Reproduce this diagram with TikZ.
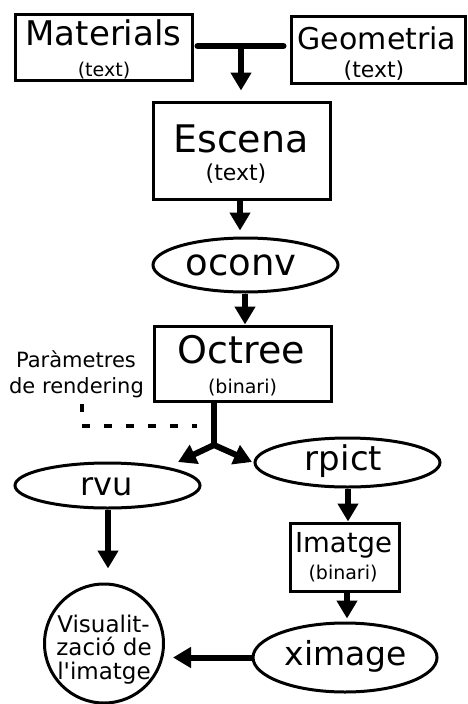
\documentclass[tikz,border=0pt]{standalone}
\usepackage{fontspec}
\setmainfont{DejaVu Sans}
\usetikzlibrary{shapes.geometric,arrows.meta,calc}
\newcommand{\fs}[1]{\fontsize{#1}{#1}\selectfont}
\begin{document}
\begin{tikzpicture}[x=1pt,y=-1pt,
  box/.style={draw,line width=3pt,rectangle,inner sep=0pt},
  oval/.style={draw,line width=3pt,ellipse,inner sep=0pt},
  txt/.style={anchor=base,inner sep=0pt},
  arr/.style={line width=6pt,-{Triangle[width=20pt,length=18pt]}},
  thickline/.style={line width=6pt},
  dashline/.style={line width=3.5pt,dash pattern=on 8pt off 14pt}]
\useasboundingbox (0,0) rectangle (467,704);
% boxes
\node[box,minimum width=177pt,minimum height=66pt] (Mat) at (103.5,47) {};
\node[box,minimum width=174pt,minimum height=67pt] (Geo) at (378,49.5) {};
\node[box,minimum width=177pt,minimum height=97pt] (Esc) at (241.5,150.5) {};
\node[oval,minimum width=185pt,minimum height=54pt] (oconv) at (245.5,265) {};
\node[box,minimum width=177pt,minimum height=75pt] (Oct) at (242.5,363.5) {};
\node[oval,minimum width=185pt,minimum height=45pt] (rvu) at (107.5,485.5) {};
\node[oval,minimum width=185pt,minimum height=49pt] (rpict) at (347.5,462.5) {};
\node[box,minimum width=109pt,minimum height=68pt] (Ima) at (344.5,557) {};
\node[oval,minimum width=184pt,minimum height=69pt] (xim) at (345,657.5) {};
\node[draw,line width=3pt,circle,minimum size=119pt,inner sep=0pt] (Vis) at (104,643.5) {};
% texts
\node[txt] (MatT) at (103.5,45) {\fs{34}Materials};
\node[txt] (MatS) at (104,76) {\fs{19}(text)};
\node[txt] (GeoT) at (377,49) {\fs{30}Geometria};
\node[txt] (GeoS) at (374,77) {\fs{22}(text)};
\node[txt] (EscT) at (241,152) {\fs{38}Escena};
\node[txt] (EscS) at (236,180) {\fs{22}(text)};
\node[txt] (oconvT) at (241,275) {\fs{37}oconv};
\node[txt] (OctT) at (241.5,363) {\fs{38}Octree};
\node[txt] (OctS) at (242.5,393) {\fs{19}(binari)};
\node[txt] (ParA) at (76,367) {\fs{21}Paràmetres};
\node[txt] (ParB) at (76.5,393) {\fs{21}de rendering};
\node[txt] (rvuT) at (106.5,495) {\fs{32}rvu};
\node[txt] (rpictT) at (343.5,470) {\fs{34}rpict};
\node[txt] (ImaT) at (343.5,552) {\fs{27.5}Imatge};
\node[txt] (ImaS) at (343,579) {\fs{19}(binari)};
\node[txt] (ximT) at (346,665) {\fs{33}ximage};
\node[txt] (VisA) at (103.5,632) {\fs{23}Visualit-};
\node[txt] (VisB) at (104,655) {\fs{23}zació de};
\node[txt] (VisC) at (104,679) {\fs{23}l\textquotesingle imatge};
% connectors
\coordinate (J) at (241,46);
\draw[thickline,line cap=round,shorten <=4pt,shorten >=6pt] (Mat.east |- J) -- (Geo.west |- J);
\draw[arr,shorten >=10pt] (J) -- (J |- Esc.north);
\draw[arr,shorten >=6pt] (Esc.south -| 240,0) -- (240,0 |- oconv.north);
\draw[arr] (245,0 |- oconv.south) -- (245,0 |- Oct.north);
\coordinate (F) at (214,445);
\coordinate (tipL) at (178,462);
\coordinate (tipR) at (252,462);
\draw[thickline] (F |- Oct.south) -- (F);
\draw[arr] (F) -- (tipL);
\draw[arr] (F) -- (tipR);
\coordinate (P1) at (82,404);
\coordinate (P2) at (82,426);
\coordinate (P3) at (197,426);
\draw[dashline] (P1) -- (P2) -- (P3);
\draw[arr,shorten >=14pt] (108,0 |- rvu.south) -- (108,0 |- Vis.north);
\draw[arr] (348,0 |- rpict.south) -- (348,0 |- Ima.north);
\draw[arr,shorten >=3pt] (347,0 |- Ima.south) -- (347,0 |- xim.north);
\draw[arr,shorten >=8pt] (xim.west) -- (xim.west -| Vis.east);
\end{tikzpicture}
\end{document}
